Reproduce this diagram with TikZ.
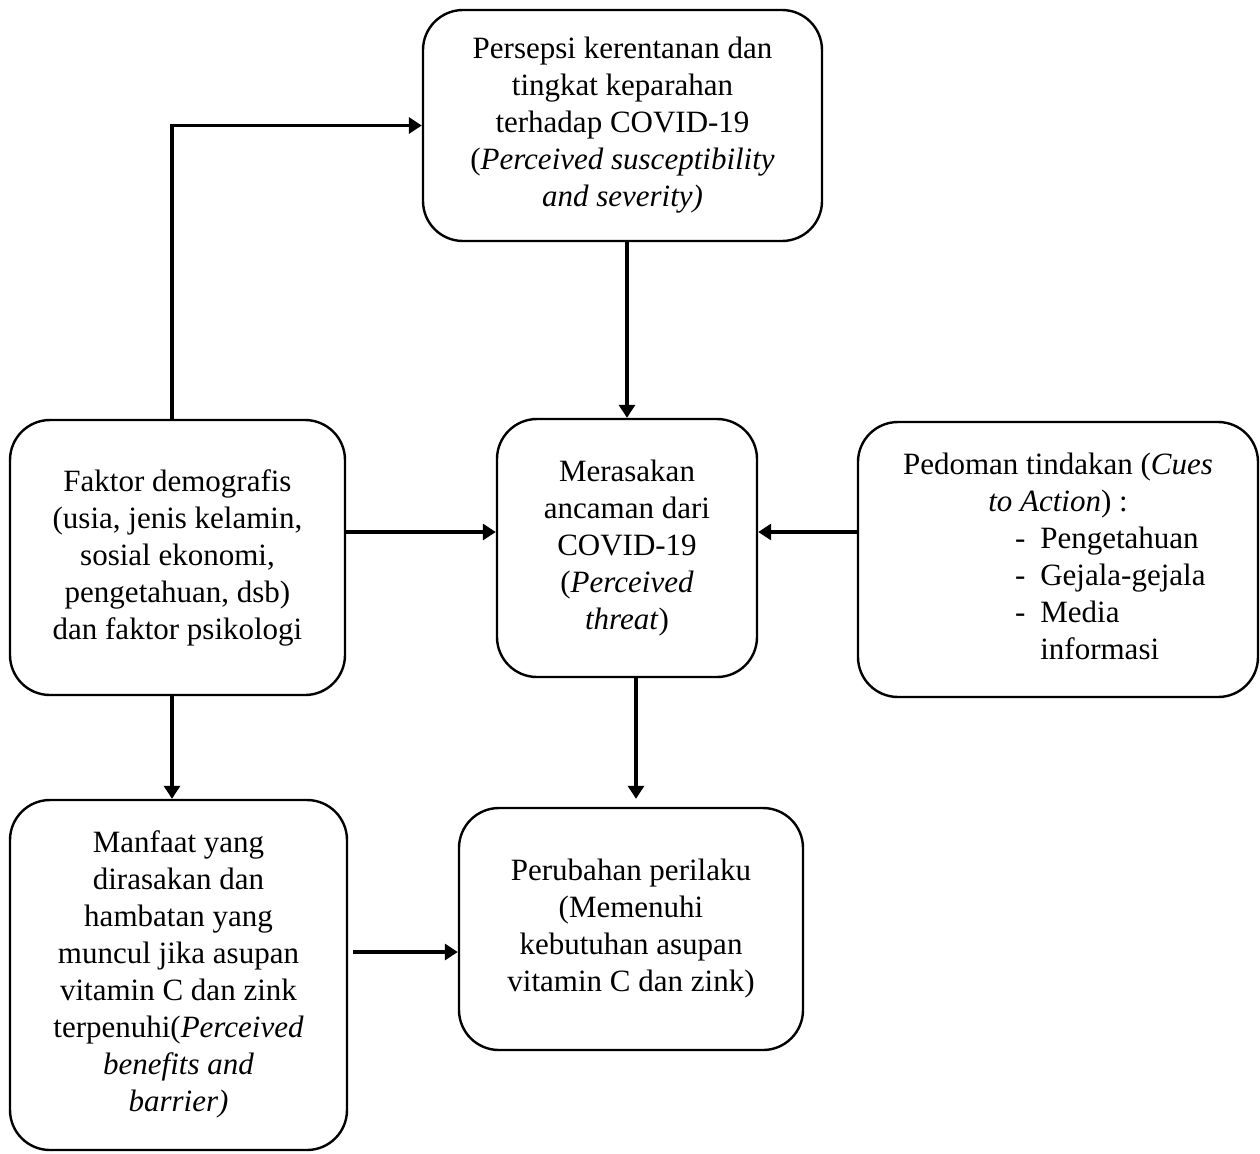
\documentclass[tikz,border=0pt]{standalone}
\usepackage{fontspec}
\setmainfont{Liberation Serif}
\usetikzlibrary{arrows.meta}

\begin{document}
\begin{tikzpicture}[
    x=0.5pt, y=-0.5pt,
    box/.style={rectangle, rounded corners=20pt, draw=black, line width=1.2pt,
                align=center, inner sep=0pt,
                font=\fontsize{15.5}{18.5}\selectfont},
    arr/.style={-{Triangle[length=6.5pt, width=8pt]}, line width=1.6pt, draw=black}
]
    \useasboundingbox (0,0) rectangle (1260,1153);

    \node[box, minimum width=199.5pt, minimum height=115.5pt] (persepsi) at (622.5,125.5)
        {Persepsi kerentanan dan\\ tingkat keparahan\\ terhadap COVID-19\\
         (\textit{Perceived susceptibility}\\ \textit{and severity)}};
    \node[box, minimum width=130pt, minimum height=129pt] (ancaman) at (627,548)
        {Merasakan\\ ancaman dari\\ COVID-19\\ (\textit{Perceived}\\ \textit{threat})};
    \node[box, minimum width=167.5pt, minimum height=137.5pt] (demografi) at (177.5,557.5)
        {Faktor demografis\\ (usia, jenis kelamin,\\ sosial ekonomi,\\
         pengetahuan, dsb)\\ dan faktor psikologi};
    \node[box, minimum width=200pt, minimum height=137.5pt] (cues) at (1058,559.5)
        {\begin{tabular}{@{}l@{\hspace{7.5pt}}l@{}}
          \multicolumn{2}{@{}c@{}}{Pedoman tindakan (\textit{Cues}}\\
          \multicolumn{2}{@{}c@{}}{\textit{to Action}) :}\\
          \hspace*{56pt}- & Pengetahuan\\
          \hspace*{56pt}- & Gejala-gejala\\
          \hspace*{56pt}- & Media\\
                          & informasi
         \end{tabular}};
    \node[box, minimum width=168.5pt, minimum height=175pt] (manfaat) at (178.5,975)
        {\raisebox{-8pt}{\begin{tabular}{@{}c@{}}Manfaat yang\\ dirasakan dan\\ hambatan yang\\
         muncul jika asupan\\ vitamin C dan zink\\ terpenuhi(\textit{Perceived}\\
         \textit{benefits and}\\ \textit{barrier)}\end{tabular}}};
    \node[box, minimum width=172pt, minimum height=121pt] (perilaku) at (631,929)
        {Perubahan perilaku\\ (Memenuhi\\ kebutuhan asupan\\ vitamin C dan zink)};

    \draw[arr] ([xshift=-2.75pt]demografi.north) |- (persepsi.west);
    \draw[arr] (persepsi.south -| ancaman.north) -- (ancaman.north);
    \draw[arr] ([yshift=8pt]demografi.east |- ancaman.west) -- ([yshift=8pt]ancaman.west);
    \draw[arr] ([yshift=8pt]cues.west |- ancaman.west) -- ([yshift=8pt]ancaman.east);
    \draw[arr, shorten >=4pt] ([xshift=4.5pt]ancaman.south) -- ([xshift=2.5pt]perilaku.north);
    \draw[arr] ([xshift=-2.75pt]demografi.south) -- ([xshift=-3.25pt]manfaat.north);
    \draw[arr] ([yshift=11.5pt, xshift=2.5pt]manfaat.east) -- ([yshift=-11.5pt]perilaku.west);
\end{tikzpicture}
\end{document}
